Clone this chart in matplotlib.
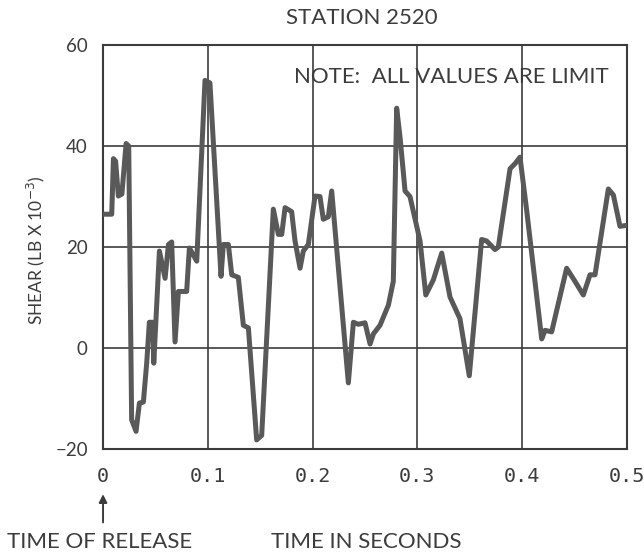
import matplotlib
matplotlib.use("Agg")
import matplotlib.pyplot as plt

plt.rcParams['font.family'] = ['Lato', 'DejaVu Sans']

# Shear history at station 2520 (time in seconds, shear in lb x 10^-3)
time_s = [0.0003, 0.0083, 0.0099, 0.0120, 0.0146, 0.0180, 0.0220, 0.0245,
          0.0273, 0.0315, 0.0347, 0.0385, 0.0417, 0.0442, 0.0474, 0.0484,
          0.0538, 0.0592, 0.0624, 0.0655, 0.0687, 0.0719, 0.0798, 0.0824,
          0.0860, 0.0894, 0.0973, 0.1020, 0.1126, 0.1148, 0.1196, 0.1228,
          0.1291, 0.1339, 0.1387, 0.1466, 0.1514, 0.1625, 0.1673, 0.1705,
          0.1737, 0.1800, 0.1832, 0.1880, 0.1911, 0.1959, 0.2023, 0.2070,
          0.2102, 0.2150, 0.2182, 0.2341, 0.2389, 0.2436, 0.2500, 0.2548,
          0.2580, 0.2643, 0.2723, 0.2770, 0.2802, 0.2834, 0.2882, 0.2929,
          0.3025, 0.3080, 0.3152, 0.3232, 0.3311, 0.3406, 0.3495, 0.3613,
          0.3660, 0.3740, 0.3772, 0.3884, 0.3931, 0.3979, 0.4043, 0.4186,
          0.4218, 0.4281, 0.4424, 0.4504, 0.4583, 0.4647, 0.4695, 0.4822,
          0.4870, 0.4933, 0.5000]
shear = [26.5, 26.5, 37.5, 37.0, 30.1, 30.5, 40.5, 40.0,
         -14.2, -16.5, -10.9, -10.7, -2.9, 5.1, 5.1, -3.0,
         19.2, 13.8, 20.5, 21.0, 1.2, 11.2, 11.2, 19.8,
         18.5, 17.2, 53.0, 52.5, 14.2, 20.5, 20.5, 14.5,
         14.0, 4.5, 4.0, -18.2, -17.3, 27.5, 22.5, 22.5,
         27.8, 27.0, 21.2, 15.8, 19.2, 20.5, 30.1, 30.0,
         25.5, 26.0, 31.1, -6.9, 5.1, 4.7, 5.0, 0.8,
         2.8, 4.5, 8.5, 13.2, 47.5, 41.8, 31.1, 30.0,
         21.2, 10.5, 13.5, 18.8, 10.1, 5.8, -5.5, 21.5,
         21.2, 19.5, 20.0, 35.5, 36.5, 37.8, 27.2, 1.8,
         3.5, 3.2, 15.8, 13.2, 10.5, 14.5, 14.5, 31.5,
         30.3, 24.1, 24.3]

x_ticks = [0, 0.1, 0.2, 0.3, 0.4, 0.5]
x_tick_labels = ['0', '0.1', '0.2', '0.3', '0.4', '0.5']
y_ticks = [-20, 0, 20, 40, 60]
y_tick_labels = ['\u221220', '0', '20', '40', '60']

ink = '#3c3c3c'
fig = plt.figure(figsize=(6.44, 5.54), dpi=100)
ax = fig.add_axes([0.160, 0.1895, 0.8136, 0.7292])

ax.plot(time_s, shear, color='#595959', linewidth=3.6,
        solid_joinstyle='round', solid_capstyle='round', zorder=3)

ax.set_xlim(0, 0.5)
ax.set_ylim(-20, 60)
ax.set_xticks(x_ticks)
ax.set_xticklabels(x_tick_labels, fontfamily='DejaVu Sans Mono',
                   fontsize=14.5)
ax.set_yticks(y_ticks)
ax.set_yticklabels(y_tick_labels, fontsize=13.5)
ax.tick_params(length=0, colors=ink)
ax.tick_params(axis='x', pad=13)
ax.tick_params(axis='y', pad=11)
ax.grid(True, color=ink, linewidth=1.2)
for sp in ax.spines.values():
    sp.set_color(ink)
    sp.set_linewidth(1.5)

fig.text(36 / 644, 1 - 250 / 554, 'SHEAR (LB X 10$^{-3}$)', rotation=90,
         ha='center', va='center', fontsize=12.5, color=ink)

fig.text(0.562, 0.967, 'STATION 2520', ha='center', va='center',
         fontsize=16, color=ink)
ax.text(0.965, 0.92, 'NOTE:  ALL VALUES ARE LIMIT', transform=ax.transAxes,
        ha='right', va='center', fontsize=16, color=ink, zorder=4)

fig.text(0.155, 0.022, 'TIME OF RELEASE', ha='center', va='center',
         fontsize=16, color=ink)
fig.text(0.568, 0.022, 'TIME IN SECONDS', ha='center', va='center',
         fontsize=16, color=ink)
ax.annotate('', xy=(0, 0.113), xycoords=('data', 'figure fraction'),
            xytext=(0, 0.052), textcoords=('data', 'figure fraction'),
            arrowprops=dict(arrowstyle='-|>', color=ink, lw=1.4,
                            mutation_scale=12))

fig.savefig('out.png', dpi=100, facecolor='white')
